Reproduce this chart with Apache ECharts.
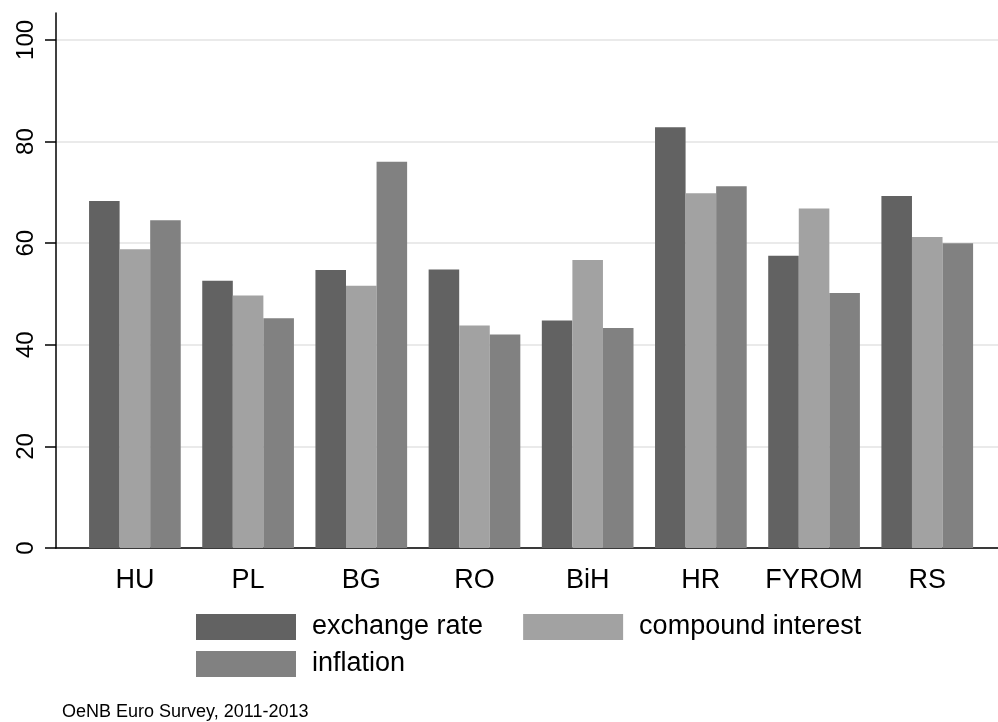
<!DOCTYPE html>
<html>
<head>
<meta charset="utf-8">
<script src="https://cdn.jsdelivr.net/npm/echarts@6/dist/echarts.min.js"></script>
<style>
html,body{margin:0;padding:0;background:#fff;}
#chart{width:998px;height:722px;}
</style>
</head>
<body>
<div id="chart"></div>
<script>
const categories = ['HU', 'PL', 'BG', 'RO', 'BiH', 'HR', 'FYROM', 'RS'];
const exchangeRate = [68.3, 52.6, 54.7, 54.8, 44.8, 82.8, 57.5, 69.3];
const compoundInterest = [58.8, 49.7, 51.6, 43.8, 56.7, 69.8, 66.8, 61.2];
const inflation = [64.5, 45.2, 76.0, 42.0, 43.3, 71.2, 50.2, 60.0];
const yTicks = [0, 20, 40, 60, 80, 100];
const seriesNames = ['exchange rate', 'compound interest', 'inflation'];
const note = 'OeNB Euro Survey, 2011-2013';

const SANS = "'Liberation Sans', Arial, Helvetica, sans-serif";
const colors = ['#626262', '#a2a2a2', '#818181'];
const catIdx = categories.map((c, i) => i);
const toPairs = arr => arr.map((v, i) => [catIdx[i], v]);

const chart = echarts.init(document.getElementById('chart'), null, {renderer: 'canvas'});
chart.setOption({
  backgroundColor: '#ffffff',
  animation: false,
  color: colors,
  title: {
    text: note,
    left: 62,
    top: 703,
    padding: 0,
    textStyle: {fontFamily: SANS, fontSize: 18, fontWeight: 'normal', color: '#000'}
  },
  grid: {left: 56, right: 0, top: 13, bottom: 174, containLabel: false},
  legend: [
    {
      data: [seriesNames[0], seriesNames[1]],
      left: 196, top: 612, orient: 'horizontal', padding: 0,
      icon: 'rect', itemWidth: 100, itemHeight: 26, itemGap: 40,
      textStyle: {fontFamily: SANS, fontSize: 27, color: '#000', lineHeight: 28, padding: [2, 0, 0, 11]}
    },
    {
      data: [seriesNames[2]],
      left: 196, top: 649, orient: 'horizontal', padding: 0,
      icon: 'rect', itemWidth: 100, itemHeight: 26,
      textStyle: {fontFamily: SANS, fontSize: 27, color: '#000', lineHeight: 28, padding: [2, 0, 0, 11]}
    }
  ],
  xAxis: {
    type: 'value',
    min: -0.697,
    max: 7.625,
    axisLine: {show: true, onZero: true, lineStyle: {color: '#000', width: 1.5}},
    axisTick: {show: false, customValues: catIdx},
    splitLine: {show: false},
    axisLabel: {
      customValues: catIdx,
      formatter: v => categories[Math.round(v)] || '',
      fontFamily: SANS, fontSize: 27, color: '#000', margin: 19
    }
  },
  yAxis: {
    type: 'value',
    min: 0,
    max: 105.3,
    axisLine: {show: true, onZero: false, lineStyle: {color: '#000', width: 1.5}},
    axisTick: {show: true, length: 11, customValues: yTicks, lineStyle: {color: '#000', width: 1.5}},
    axisLabel: {
      customValues: yTicks,
      rotate: 90,
      fontFamily: SANS, fontSize: 24, color: '#000', margin: 18
    },
    splitLine: {show: true, lineStyle: {color: '#e3e3e3', width: 1.5}}
  },
  series: [
    {name: seriesNames[0], type: 'bar', data: toPairs(exchangeRate), barGap: '0%', barCategoryGap: '19%', itemStyle: {color: colors[0]}},
    {name: seriesNames[1], type: 'bar', data: toPairs(compoundInterest), barGap: '0%', barCategoryGap: '19%', itemStyle: {color: colors[1]}},
    {name: seriesNames[2], type: 'bar', data: toPairs(inflation), barGap: '0%', barCategoryGap: '19%', itemStyle: {color: colors[2]}}
  ]
});
</script>
</body>
</html>
